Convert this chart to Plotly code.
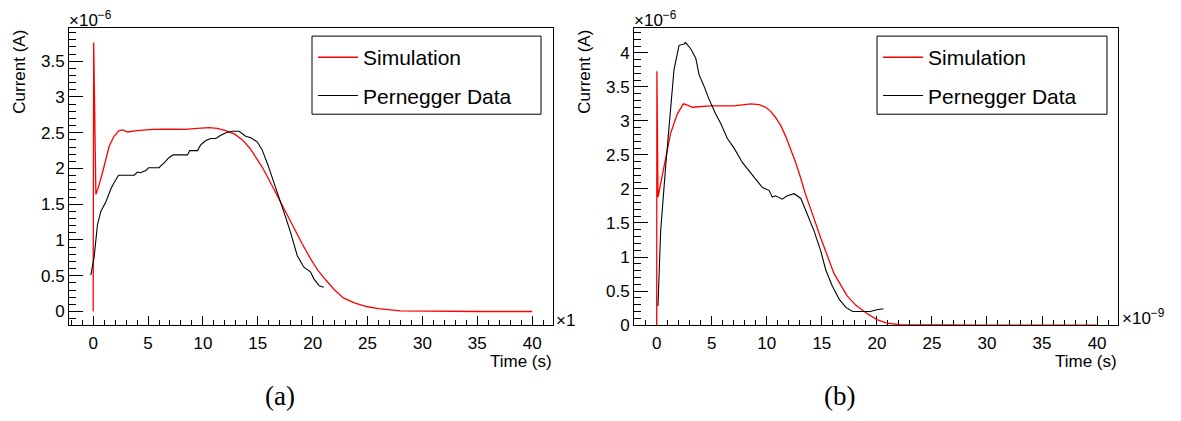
import plotly.graph_objects as go

W, H = 1181, 421

# ---------------- data (panel a) ----------------
sim_a_t = [0, 0.05, 0.25, 0.5, 0.85, 1.15, 1.46, 1.9, 2.37, 2.7, 3.13, 4.0, 5.4, 7.0, 8.4, 9.5,
           10.57, 11.3, 12.09, 12.9, 13.6, 14.3, 14.8, 15.4, 16.0, 16.6, 17.25, 18.0, 19.07, 19.8,
           20.5, 21.2, 22.0, 22.8, 23.8, 24.9, 26.0, 28.0, 30, 35, 40]
sim_a_i = [0, 3.76, 1.64, 1.75, 1.94, 2.13, 2.31, 2.45, 2.53, 2.54, 2.51, 2.53, 2.547, 2.55, 2.547, 2.56,
           2.57, 2.56, 2.53, 2.48, 2.40, 2.28, 2.17, 2.02, 1.85, 1.67, 1.48, 1.25, 0.94, 0.74,
           0.57, 0.44, 0.30, 0.19, 0.12, 0.07, 0.04, 0.01, 0.005, 0, 0]

per_a_t = [-0.21, 0.09, 0.39, 0.7, 1.15, 1.6, 1.9, 2.31, 3.74, 4.04, 4.3, 4.8, 5.04, 6.0, 6.6, 6.9,
           7.29, 8.6, 8.8, 9.5, 9.8, 10.27, 10.7, 11.17, 11.6, 12.1, 12.7, 13.3, 13.9, 14.37, 14.97,
           15.4, 15.9, 16.5, 16.95, 17.56, 18.0, 18.6, 19.2, 19.8, 20.1, 20.6, 21.0]
per_a_i = [0.51, 0.76, 1.21, 1.40, 1.53, 1.71, 1.80, 1.906, 1.906, 1.95, 1.94, 1.97, 2.01, 2.01, 2.10, 2.15,
           2.19, 2.19, 2.25, 2.25, 2.33, 2.39, 2.42, 2.42, 2.46, 2.50, 2.52, 2.52, 2.45, 2.43, 2.37,
           2.26, 2.06, 1.80, 1.58, 1.31, 1.10, 0.78, 0.62, 0.555, 0.46, 0.36, 0.34]

# ---------------- data (panel b) ----------------
sim_b_t = [0, 0.02, 0.12, 0.66, 1.27, 1.87, 2.42, 2.8, 3.24, 4.9, 7.0, 8.55, 9.3, 9.9, 10.36, 10.8,
           11.27, 11.7, 12.2, 12.6, 13.1, 13.5, 14.0, 14.9, 16.1, 17.3, 18.1, 19.1, 20.0, 20.9, 22.1,
           25, 30, 40]
sim_b_i = [0, 3.73, 1.88, 2.34, 2.82, 3.10, 3.25, 3.23, 3.20, 3.22, 3.22, 3.25, 3.24, 3.20, 3.14, 3.05,
           2.93, 2.78, 2.58, 2.40, 2.15, 1.93, 1.70, 1.28, 0.76, 0.43, 0.29, 0.17, 0.08, 0.03, 0.005,
           0, 0, 0]

per_b_t = [0.12, 0.36, 0.82, 1.27, 1.57, 2.03, 2.48, 2.63, 3.09, 3.55, 3.85, 4.3, 4.75, 5.36, 5.82, 6.42,
           7.03, 7.78, 8.55, 9.6, 10.2, 10.5, 10.8, 11.4, 11.87, 12.48, 13.1, 13.7, 14.3, 14.9, 15.36,
           15.96, 16.57, 17.18, 17.8, 18.7, 19.4, 20.0, 20.6]
per_b_i = [0.28, 1.38, 2.34, 3.25, 3.75, 4.11, 4.13, 4.15, 4.06, 3.92, 3.68, 3.51, 3.32, 3.10, 2.96, 2.74,
           2.60, 2.39, 2.24, 2.02, 1.98, 1.88, 1.90, 1.85, 1.90, 1.93, 1.86, 1.62, 1.38, 1.09, 0.81,
           0.57, 0.38, 0.26, 0.20, 0.20, 0.20, 0.225, 0.24]

series_names = ["Simulation", "Pernegger Data"]
x_title = "Time (s)"
y_title = "Current (A)"
captions = ["(a)", "(b)"]

SANS = "Liberation Sans"


def fx(px):
    return px / W


def fy(py):
    return 1 - py / H


fig = go.Figure()

fig.add_trace(go.Scatter(x=sim_a_t, y=sim_a_i, mode="lines", name=series_names[0],
                         line=dict(color="#ff0000", width=1.3), xaxis="x", yaxis="y",
                         legend="legend", legendgroup="a1", cliponaxis=False))
fig.add_trace(go.Scatter(x=per_a_t, y=per_a_i, mode="lines", name=series_names[1],
                         line=dict(color="#000000", width=1.1), xaxis="x", yaxis="y",
                         legend="legend", legendgroup="a2", cliponaxis=False))
fig.add_trace(go.Scatter(x=sim_b_t, y=sim_b_i, mode="lines", name=series_names[0],
                         line=dict(color="#ff0000", width=1.3), xaxis="x2", yaxis="y2",
                         legend="legend2", legendgroup="b1", cliponaxis=False))
fig.add_trace(go.Scatter(x=per_b_t, y=per_b_i, mode="lines", name=series_names[1],
                         line=dict(color="#000000", width=1.1), xaxis="x2", yaxis="y2",
                         legend="legend2", legendgroup="b2", cliponaxis=False))

tickfont = dict(family=SANS, size=17, color="black")

common_x = dict(showline=True, linecolor="black", linewidth=1, mirror=True, ticks="inside",
                ticklen=9, tickwidth=1, tickcolor="black", tick0=0, dtick=5, showgrid=False,
                zeroline=False, tickfont=tickfont, ticklabelstandoff=3,
                minor=dict(ticks="inside", ticklen=5, tickwidth=1, tickcolor="black", dtick=1,
                           tick0=0, showgrid=False))
common_y = dict(showline=True, linecolor="black", linewidth=1, mirror=True, ticks="inside",
                ticklen=14, tickwidth=1, tickcolor="black", tick0=0, dtick=0.5, showgrid=False,
                zeroline=False, tickfont=tickfont,
                minor=dict(ticks="inside", ticklen=7, tickwidth=1, tickcolor="black", dtick=0.1,
                           tick0=0, showgrid=False))

ydom = [fy(333), fy(29)]

legend_common = dict(xanchor="left", yanchor="top", bgcolor="rgba(255,255,255,0)",
                     borderwidth=0, font=dict(family=SANS, size=21, color="black"),
                     tracegroupgap=8, itemwidth=40)

fig.update_layout(
    width=W, height=H, margin=dict(l=0, r=0, t=0, b=0),
    paper_bgcolor="white", plot_bgcolor="white",
    xaxis=dict(domain=[fx(69), fx(553)], range=[-2.2, 41.9], anchor="y", **common_x),
    yaxis=dict(domain=ydom, range=[-0.19, 3.96], anchor="x", **common_y),
    xaxis2=dict(domain=[fx(634), fx(1118)], range=[-2.06, 41.9], anchor="y2",
                layer="below traces", **common_x),
    yaxis2=dict(domain=ydom, range=[0, 4.36], anchor="x2", **common_y),
    legend=dict(x=fx(313), y=fy(38), **legend_common),
    legend2=dict(x=fx(878), y=fy(38), **legend_common),
    showlegend=True,
)

# legend frames
shapes = [
    dict(type="rect", xref="paper", yref="paper", x0=fx(312), x1=fx(541), y0=fy(117), y1=fy(37),
         line=dict(color="black", width=1), fillcolor="rgba(0,0,0,0)", layer="above"),
    dict(type="rect", xref="paper", yref="paper", x0=fx(877), x1=fx(1107), y0=fy(117), y1=fy(37),
         line=dict(color="black", width=1), fillcolor="rgba(0,0,0,0)", layer="above"),
]
fig.update_layout(shapes=shapes)

ann_font = dict(family=SANS, size=17, color="black")
annotations = [
    # y axis titles
    dict(text=y_title, x=fx(20), y=fy(73.5), textangle=-90, xanchor="center", yanchor="middle"),
    dict(text=y_title, x=fx(585), y=fy(73.5), textangle=-90, xanchor="center", yanchor="middle"),
    # x axis titles
    dict(text=x_title, x=fx(554), y=fy(359), xanchor="right", yanchor="top"),
    dict(text=x_title, x=fx(1119), y=fy(359), xanchor="right", yanchor="top"),
    # exponent labels
    dict(text="×10<sup>−6</sup>", x=fx(67), y=fy(33), xanchor="left", yanchor="bottom"),
    dict(text="×10<sup>−6</sup>", x=fx(632), y=fy(33), xanchor="left", yanchor="bottom"),
    dict(text="×1", x=fx(554), y=fy(328), xanchor="left", yanchor="middle"),
    dict(text="×10<sup>−9</sup>", x=fx(1120), y=fy(325), xanchor="left", yanchor="middle"),
]
for a in annotations:
    a.update(xref="paper", yref="paper", showarrow=False, font=ann_font)

cap_font = dict(family="Liberation Serif", size=27, color="black")
annotations.append(dict(text=captions[0], x=fx(280), y=fy(406), xref="paper", yref="paper",
                        showarrow=False, xanchor="center", yanchor="middle", font=cap_font))
annotations.append(dict(text=captions[1], x=fx(839), y=fy(406), xref="paper", yref="paper",
                        showarrow=False, xanchor="center", yanchor="middle", font=cap_font))

fig.update_layout(annotations=annotations)

fig.write_html("out.html")
